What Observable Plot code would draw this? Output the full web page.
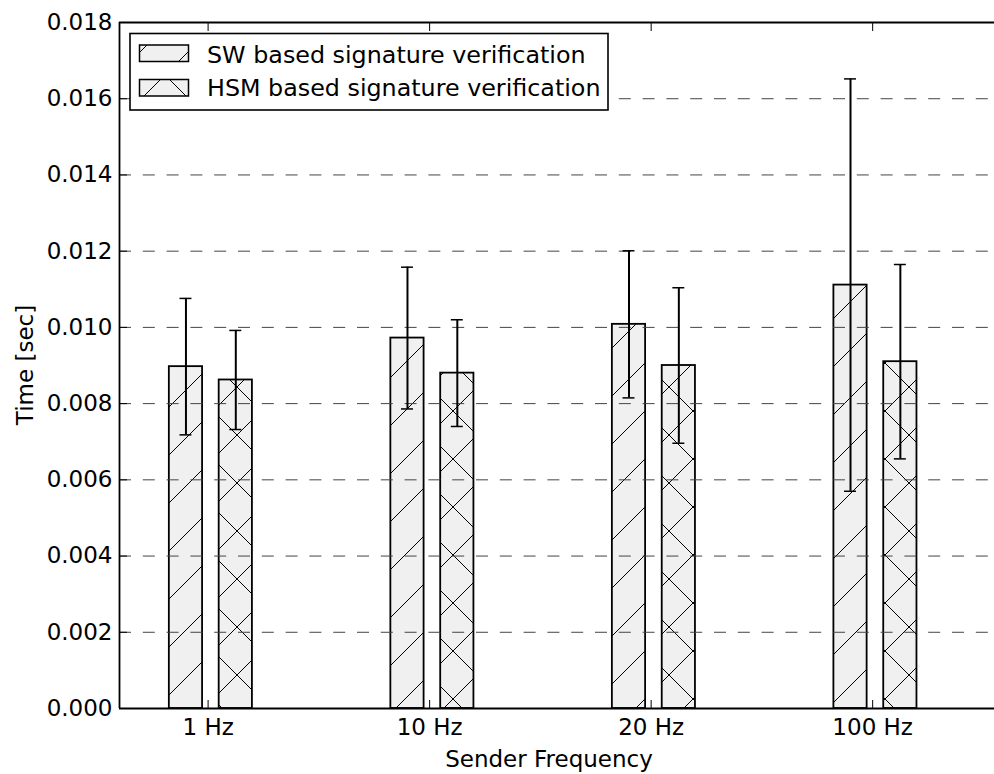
<!DOCTYPE html>
<html>
<head>
<meta charset="utf-8">
<script src="https://cdn.jsdelivr.net/npm/d3@7"></script>
<script src="https://cdn.jsdelivr.net/npm/@observablehq/plot@0.6"></script>
<style>
  html, body { margin: 0; padding: 0; background: white; overflow: hidden; }
</style>
</head>
<body>
<div id="chart"></div>
<script>
// ---- data ----
const categories = ["1 Hz", "10 Hz", "20 Hz", "100 Hz"];
const seriesNames = ["SW based signature verification", "HSM based signature verification"];
const swMean  = [0.00897, 0.00972, 0.01008, 0.01111];
const swErr   = [0.00179, 0.00186, 0.00193, 0.00541];
const hsmMean = [0.00862, 0.00880, 0.00900, 0.00910];
const hsmErr  = [0.00130, 0.00140, 0.00204, 0.00255];
const yTicks  = [0, 0.002, 0.004, 0.006, 0.008, 0.010, 0.012, 0.014, 0.016, 0.018];

// ---- layout constants (styling) ----
const barWidth = 0.15;
const offsets = {sw: -0.1, hsm: 0.125};
const capHalf = 0.027;

const table = [];
categories.forEach((c, i) => {
  table.push({cat: c, series: "sw", pos: i + offsets.sw, mean: swMean[i], err: swErr[i]});
  table.push({cat: c, series: "hsm", pos: i + offsets.hsm, mean: hsmMean[i], err: hsmErr[i]});
});
const sw = table.filter(d => d.series === "sw");
const hsm = table.filter(d => d.series === "hsm");

const barOpts = (fill) => ({
  x1: d => d.pos - barWidth / 2,
  x2: d => d.pos + barWidth / 2,
  y1: 0,
  y2: d => d.mean,
  fill,
  stroke: "black",
  strokeWidth: 1.8
});

const svg = Plot.plot({
  width: 994,
  height: 774,
  marginLeft: 119,
  marginRight: 0,
  marginTop: 22,
  marginBottom: 66,
  style: {fontFamily: "DejaVu Sans", fontSize: "23px", color: "black", background: "white", maxWidth: "none", overflow: "visible"},
  x: {domain: [-0.4, 3.55]},
  y: {domain: [0, 0.018]},
  marks: [
    Plot.rect(sw, barOpts("url(#hatch-sw)")),
    Plot.rect(hsm, barOpts("url(#hatch-hsm)")),
    Plot.gridY(yTicks, {stroke: "#444", strokeOpacity: 1, strokeWidth: 1, strokeDasharray: "12,11.8"}),
    Plot.ruleX(table, {x: "pos", y1: d => d.mean - d.err, y2: d => d.mean + d.err, stroke: "black", strokeWidth: 2}),
    Plot.ruleY(table, {y: d => d.mean + d.err, x1: d => d.pos - capHalf, x2: d => d.pos + capHalf, stroke: "black", strokeWidth: 1.5}),
    Plot.ruleY(table, {y: d => d.mean - d.err, x1: d => d.pos - capHalf, x2: d => d.pos + capHalf, stroke: "black", strokeWidth: 1.5}),
    // spines
    Plot.ruleY([0, 0.018], {stroke: "black", strokeWidth: 1.8}),
    Plot.ruleX([-0.4], {stroke: "black", strokeWidth: 1.8}),
    // inward ticks
    Plot.axisY({ticks: yTicks, tickSize: 8, dx: 8, fill: "none", label: null}),
    Plot.axisX({ticks: [0, 1, 2, 3], anchor: "bottom", tickSize: 8, dy: -8, fill: "none", label: null}),
    Plot.axisX({ticks: [0, 1, 2, 3], anchor: "top", tickSize: 8, dy: 8, fill: "none", label: null}),
    // tick labels
    Plot.axisY({ticks: yTicks, tickSize: 0, tickPadding: 7, tickFormat: d3.format(".3f"), label: null}),
    Plot.axisX({ticks: [0, 1, 2, 3], anchor: "bottom", tickSize: 0, tickPadding: 10, tickFormat: i => categories[i], label: null})
  ]
});

const root = d3.select(svg);
const defs = root.insert("defs", ":first-child");
const pSW = defs.append("pattern").attr("id", "hatch-sw").attr("patternUnits", "userSpaceOnUse")
  .attr("width", 48).attr("height", 48);
pSW.append("rect").attr("width", 48).attr("height", 48).attr("fill", "#f0f0f0");
pSW.append("path").attr("d", "M-2,50L50,-2M-2,2L2,-2M46,50L50,46").attr("stroke", "black").attr("stroke-width", 1).attr("fill", "none");
const pH = defs.append("pattern").attr("id", "hatch-hsm").attr("patternUnits", "userSpaceOnUse")
  .attr("width", 48).attr("height", 48);
pH.append("rect").attr("width", 48).attr("height", 48).attr("fill", "#f0f0f0");
pH.append("path").attr("d", "M-2,50L50,-2M-2,2L2,-2M46,50L50,46M-2,4L44,50M40,-2L50,8").attr("stroke", "black").attr("stroke-width", 1).attr("fill", "none");

// axis titles
root.append("text").attr("transform", "translate(33,365) rotate(-90)").attr("text-anchor", "middle")
  .attr("font-size", 23).attr("fill", "black").text("Time [sec]");
root.append("text").attr("x", 549).attr("y", 767).attr("text-anchor", "middle")
  .attr("font-size", 23).attr("fill", "black").text("Sender Frequency");

// legend
const lg = root.append("g").attr("text-anchor", "start");
lg.append("rect").attr("x", 130).attr("y", 33.5).attr("width", 478).attr("height", 76.5)
  .attr("fill", "white").attr("stroke", "black").attr("stroke-width", 1.6);
const fills = ["url(#hatch-sw)", "url(#hatch-hsm)"];
const rowY = [45, 79.5];
const baseY = [62.5, 96];
seriesNames.forEach((name, k) => {
  lg.append("rect").attr("x", 139.5).attr("y", rowY[k]).attr("width", 49).attr("height", 16.5)
    .attr("fill", fills[k]).attr("stroke", "black").attr("stroke-width", 1.5);
  lg.append("text").attr("x", 207).attr("y", baseY[k]).attr("text-anchor", "start")
    .attr("font-size", 23.8).attr("fill", "black").text(name);
});

document.getElementById("chart").appendChild(svg);
</script>
</body>
</html>
